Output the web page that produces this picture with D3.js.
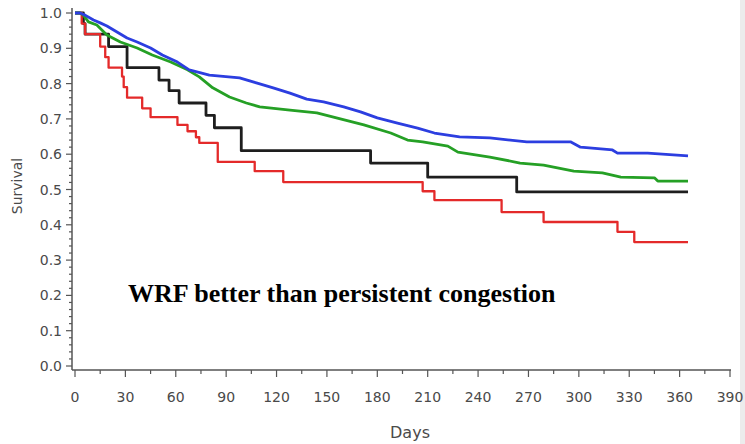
<!DOCTYPE html>
<html>
<head>
<meta charset="utf-8">
<script src="https://cdn.jsdelivr.net/npm/d3@7"></script>
<style>
  body { margin: 0; background: #fff; }
  svg { display: block; }
</style>
</head>
<body>
<svg id="chart" width="745" height="444"></svg>
<script>
// survival curves (day, survival)
var blueDays = [0, 3, 6, 11, 15, 19, 25, 31, 37, 45, 52, 61, 68, 80, 98, 108, 118, 128, 138, 148, 160, 170, 180, 192, 204, 214, 229, 247, 269, 295, 301, 320, 323, 341, 365];
var blueSurv = [1.0, 1.0, 0.994, 0.98, 0.972, 0.963, 0.946, 0.929, 0.918, 0.901, 0.881, 0.861, 0.839, 0.824, 0.816, 0.802, 0.788, 0.773, 0.756, 0.748, 0.734, 0.72, 0.703, 0.688, 0.674, 0.66, 0.649, 0.646, 0.635, 0.635, 0.62, 0.612, 0.603, 0.603, 0.595];

var greenDays = [0, 3, 5, 8, 13, 19, 27, 37, 46, 57, 67, 74, 82, 92, 102, 110, 128, 144, 158, 172, 188, 198, 207, 222, 228, 247, 265, 279, 297, 314, 325, 345, 347, 365];
var greenSurv = [1.0, 1.0, 0.994, 0.975, 0.966, 0.938, 0.918, 0.901, 0.881, 0.861, 0.839, 0.819, 0.788, 0.762, 0.745, 0.734, 0.725, 0.717, 0.7, 0.683, 0.66, 0.64, 0.635, 0.623, 0.606, 0.592, 0.575, 0.569, 0.552, 0.547, 0.535, 0.533, 0.524, 0.524];

var blackDays = [0, 5, 6, 20, 31, 50, 56, 62, 78, 83, 99, 176, 210, 263, 365];
var blackSurv = [1.0, 0.97, 0.94, 0.905, 0.845, 0.81, 0.78, 0.745, 0.71, 0.675, 0.61, 0.575, 0.535, 0.493, 0.493];

var redDays = [0, 4, 6, 15, 18, 20, 28, 29, 31, 40, 45, 61, 67, 72, 74, 85, 107, 124, 207, 214, 254, 279, 323, 333, 365];
var redSurv = [1.0, 0.97, 0.94, 0.905, 0.875, 0.845, 0.82, 0.79, 0.76, 0.73, 0.705, 0.683, 0.665, 0.648, 0.632, 0.578, 0.552, 0.521, 0.495, 0.47, 0.436, 0.408, 0.38, 0.351, 0.351];

var xTicks = [0, 30, 60, 90, 120, 150, 180, 210, 240, 270, 300, 330, 360, 390];
var yTicks = [0, 0.1, 0.2, 0.3, 0.4, 0.5, 0.6, 0.7, 0.8, 0.9, 1.0];

// big groups have many small steps (drawn as a fine line), small groups are plain steps
var series = [
    {name: "black", days: blackDays, surv: blackSurv, color: "#1e1e1e", w: 2.8, curve: d3.curveStepAfter},
    {name: "red", days: redDays, surv: redSurv, color: "#e42a2a", w: 2.3, curve: d3.curveStepAfter},
    {name: "green", days: greenDays, surv: greenSurv, color: "#25a025", w: 2.8, curve: d3.curveLinear},
    {name: "blue", days: blueDays, surv: blueSurv, color: "#2c3ee0", w: 2.8, curve: d3.curveLinear}
];

var svg = d3.select("#chart");

var x = d3.scaleLinear().domain([0, 390]).range([75, 730]);
var y = d3.scaleLinear().domain([0, 1]).range([366, 13]);

var axisX = 72, axisY = 370;
var axisColor = "#555";
var textColor = "#4a4a4a";
var labelFont = "DejaVu Sans, Verdana, sans-serif";

// light frame on the right edge like the scanned figure
svg.append("rect")
    .attr("x", 740).attr("y", 0)
    .attr("width", 5).attr("height", 444)
    .attr("fill", "#ececec");

// x axis
var gx = svg.append("g").attr("transform", "translate(0," + axisY + ")");
gx.append("line")
    .attr("x1", axisX).attr("x2", x(390) + 1)
    .attr("stroke", axisColor).attr("stroke-width", 1.5);
gx.selectAll(".minor")
    .data(d3.range(15, 390, 30))
    .enter().append("line")
    .attr("x1", function(d) { return x(d); })
    .attr("x2", function(d) { return x(d); })
    .attr("y2", 4)
    .attr("stroke", axisColor).attr("stroke-width", 1.2);
gx.selectAll(".major")
    .data(xTicks)
    .enter().append("line")
    .attr("x1", function(d) { return x(d); })
    .attr("x2", function(d) { return x(d); })
    .attr("y2", 7)
    .attr("stroke", axisColor).attr("stroke-width", 1.2);
gx.selectAll("text")
    .data(xTicks)
    .enter().append("text")
    .attr("x", function(d) { return x(d); })
    .attr("y", 32)
    .attr("text-anchor", "middle")
    .attr("font-family", labelFont)
    .attr("font-size", 14)
    .attr("fill", textColor)
    .text(function(d) { return d; });

// y axis
var gy = svg.append("g").attr("transform", "translate(" + axisX + ",0)");
gy.append("line")
    .attr("y1", y(1) - 5).attr("y2", axisY)
    .attr("stroke", axisColor).attr("stroke-width", 1.5);
gy.selectAll(".minor")
    .data(d3.range(0, 50).filter(function(i) { return i % 5 !== 0; }).map(function(i) { return i / 50; }))
    .enter().append("line")
    .attr("y1", function(d) { return y(d); })
    .attr("y2", function(d) { return y(d); })
    .attr("x2", -3)
    .attr("stroke", axisColor).attr("stroke-width", 1.2);
gy.selectAll(".major")
    .data(yTicks)
    .enter().append("line")
    .attr("y1", function(d) { return y(d); })
    .attr("y2", function(d) { return y(d); })
    .attr("x2", -6)
    .attr("stroke", axisColor).attr("stroke-width", 1.2);
gy.selectAll("text")
    .data(yTicks)
    .enter().append("text")
    .attr("x", -10)
    .attr("y", function(d) { return y(d); })
    .attr("dy", "0.36em")
    .attr("text-anchor", "end")
    .attr("font-family", labelFont)
    .attr("font-size", 14)
    .attr("fill", textColor)
    .text(function(d) { return d.toFixed(1); });

// axis titles
svg.append("text")
    .attr("transform", "translate(22,186) rotate(-90)")
    .attr("text-anchor", "middle")
    .attr("font-family", labelFont)
    .attr("font-size", 14)
    .attr("fill", textColor)
    .text("Survival");
svg.append("text")
    .attr("x", 410).attr("y", 438)
    .attr("text-anchor", "middle")
    .attr("font-family", labelFont)
    .attr("font-size", 16)
    .attr("fill", textColor)
    .text("Days");

// curves
svg.append("g")
    .attr("class", "curves")
    .selectAll("path")
    .data(series)
    .enter().append("path")
    .attr("d", function(s) {
        var line = d3.line()
            .x(function(d) { return x(d[0]); })
            .y(function(d) { return y(d[1]); })
            .curve(s.curve);
        return line(d3.zip(s.days, s.surv));
    })
    .attr("fill", "none")
    .attr("stroke", function(s) { return s.color; })
    .attr("stroke-width", function(s) { return s.w; })
    .attr("stroke-linejoin", "round");

// annotation
svg.append("text")
    .attr("x", 128).attr("y", 302)
    .attr("font-family", "Liberation Serif, 'Times New Roman', serif")
    .attr("font-weight", "bold")
    .attr("font-size", 26)
    .attr("fill", "#000")
    .text("WRF better than persistent congestion");
</script>
</body>
</html>
